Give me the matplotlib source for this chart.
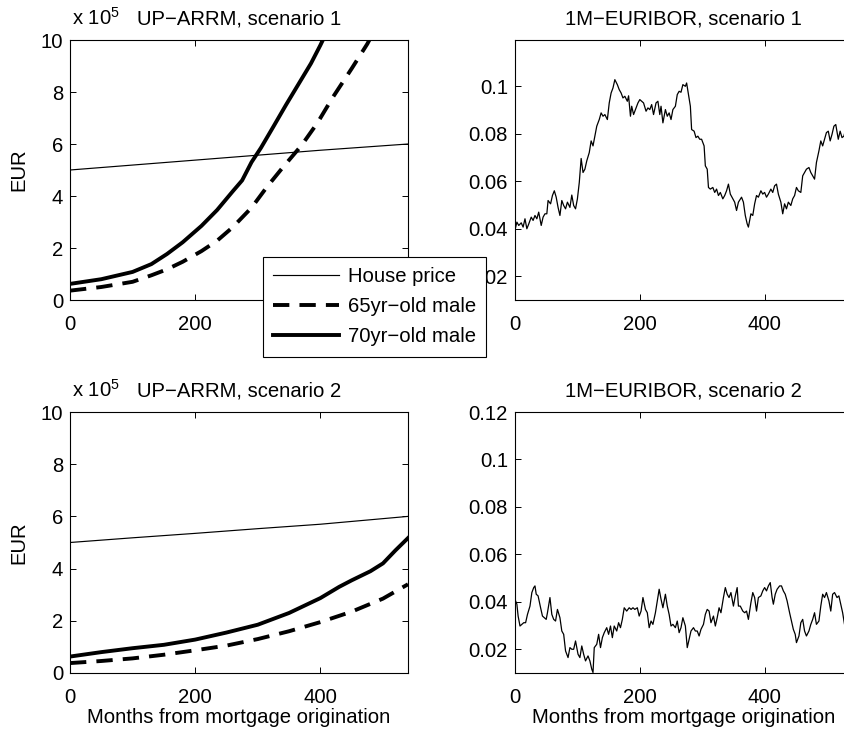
import matplotlib
matplotlib.use("Agg")
import matplotlib.pyplot as plt
from matplotlib.lines import Line2D
from matplotlib.ticker import FuncFormatter

plt.rcParams["font.family"] = ["Liberation Sans", "DejaVu Sans"]
plt.rcParams["mathtext.fontset"] = "custom"
plt.rcParams["mathtext.rm"] = "Liberation Sans"
FS = 14.6

# ---------------- UP-ARRM balances (EUR) ----------------
# scenario 1
house1_m = [0, 100, 200, 300, 400, 540]
house1_v = [5.0e5, 5.19e5, 5.38e5, 5.57e5, 5.76e5, 6.0e5]

male65_1_m = [0, 50, 100, 130, 155, 180, 210, 235, 260, 290, 315, 340, 370,
              395, 420, 450, 475, 500, 540]
male65_1_v = [0.36e5, 0.50e5, 0.70e5, 0.95e5, 1.18e5, 1.47e5, 1.88e5, 2.28e5,
              2.80e5, 3.55e5, 4.36e5, 5.10e5, 5.95e5, 6.80e5, 7.80e5, 8.90e5,
              9.85e5, 11.0e5, 13.0e5]

male70_1_m = [0, 50, 100, 130, 155, 180, 210, 235, 260, 275, 290, 305, 325,
              345, 370, 385, 400, 420, 460, 540]
male70_1_v = [0.62e5, 0.80e5, 1.08e5, 1.38e5, 1.77e5, 2.22e5, 2.85e5, 3.46e5,
              4.18e5, 4.60e5, 5.30e5, 5.85e5, 6.67e5, 7.50e5, 8.50e5, 9.10e5,
              9.80e5, 10.8e5, 13.0e5, 18.0e5]

# scenario 2
house2_m = [0, 100, 200, 300, 400, 540]
house2_v = [5.0e5, 5.18e5, 5.35e5, 5.53e5, 5.70e5, 6.0e5]

male65_2_m = [0, 50, 100, 150, 200, 250, 300, 350, 400, 450, 500, 540]
male65_2_v = [0.38e5, 0.46e5, 0.56e5, 0.70e5, 0.87e5, 1.05e5, 1.30e5, 1.60e5,
              1.95e5, 2.35e5, 2.85e5, 3.40e5]

male70_2_m = [0, 50, 100, 150, 200, 250, 300, 350, 400, 430, 450, 480, 500,
              520, 540]
male70_2_v = [0.63e5, 0.80e5, 0.95e5, 1.08e5, 1.28e5, 1.55e5, 1.85e5, 2.30e5,
              2.87e5, 3.30e5, 3.55e5, 3.90e5, 4.20e5, 4.70e5, 5.17e5]

# ---------------- 1M-EURIBOR paths ----------------
eur1_m = [0, 3, 6, 10, 13, 16, 19, 22, 26, 29, 32, 35, 38, 42, 45, 48, 51, 53,
          57, 60, 63, 66, 69, 72, 75, 78, 81, 84, 88, 91, 94, 97, 100, 103,
          106, 109, 112, 115, 119, 122, 125, 128, 131, 135, 138, 141, 144, 148,
          151, 154, 157, 160, 164, 167, 170, 173,
          176, 180, 182, 185, 187, 190, 194, 197, 200, 203, 206, 210, 213, 216,
          219, 222, 226, 229, 232, 234, 237, 241, 244, 247, 250, 253, 257, 260,
          263, 266, 269, 273, 275, 278, 281, 283, 287, 290, 293, 296, 299, 303,
          305, 308, 310, 313, 317, 320, 323, 326, 329, 333, 336, 339, 342, 345,
          349, 352, 355,
          358, 363, 366, 369, 372, 374, 378, 381, 384, 387, 390, 394, 397, 400,
          403, 406, 410, 413, 416, 419, 422, 426, 429, 432, 435, 438, 442, 445,
          448, 451, 454, 458, 461, 464, 467, 471, 474, 477, 480, 483, 487, 490,
          493, 496, 499, 502, 505, 508, 511, 514, 518, 521, 524, 527, 529, 533,
          537, 540]
eur1_v = [0.0395, 0.0428, 0.0414, 0.0425, 0.0407, 0.0442, 0.0400, 0.0420,
          0.0449, 0.0435, 0.0456, 0.0442, 0.0470, 0.0414, 0.0449, 0.0463,
          0.0463, 0.0519, 0.0505, 0.0540, 0.0560, 0.0533, 0.0490, 0.0456,
          0.0519, 0.0498, 0.0484, 0.0512, 0.0490, 0.0542, 0.0498, 0.0484,
          0.0526, 0.0595, 0.0696, 0.0637, 0.0651, 0.0686, 0.0721, 0.0770,
          0.0749, 0.0790, 0.0832, 0.0860, 0.0888, 0.0874, 0.0881, 0.0860,
          0.0930, 0.0972, 0.0993, 0.1028, 0.1007, 0.0986, 0.0972, 0.0951,
          0.0958, 0.0937, 0.0960, 0.0874, 0.0916, 0.0881, 0.0909, 0.0930,
          0.0944, 0.0937, 0.0930, 0.0895, 0.0909, 0.0902, 0.0923, 0.0881,
          0.0930, 0.0937, 0.0881, 0.0916, 0.0846, 0.0902, 0.0874, 0.0888,
          0.0860, 0.0902, 0.0916, 0.0965, 0.0979, 0.0975, 0.1007, 0.1000,
          0.1014, 0.0965, 0.0916, 0.0818, 0.0811, 0.0784, 0.0790, 0.0777,
          0.0777, 0.0749, 0.0665, 0.0651, 0.0574, 0.0567, 0.0574, 0.0553,
          0.0567, 0.0540, 0.0553, 0.0526, 0.0540, 0.0560, 0.0588, 0.0546,
          0.0526, 0.0512, 0.0477,
          0.0512, 0.0533, 0.0512, 0.0456, 0.0421, 0.0407, 0.0463, 0.0456,
          0.0505, 0.0540, 0.0533, 0.0560, 0.0546, 0.0553, 0.0533, 0.0546,
          0.0567, 0.0553, 0.0581, 0.0588, 0.0546, 0.0512, 0.0463, 0.0505,
          0.0484, 0.0512, 0.0498, 0.0526, 0.0540, 0.0574, 0.0560, 0.0553,
          0.0623, 0.0637, 0.0651, 0.0658, 0.0637, 0.0623, 0.0609, 0.0679,
          0.0728, 0.0770, 0.0749, 0.0777, 0.0805, 0.0811, 0.0770, 0.0798,
          0.0832, 0.0839, 0.0777, 0.0811, 0.0784, 0.0790, 0.0811, 0.0800,
          0.0815, 0.0795]

eur2_m = [0, 3, 5, 8, 11, 14, 17, 20, 24, 27, 30, 32, 34, 37, 41, 44, 47, 50,
          52, 56, 59, 62, 65, 68, 72, 75, 78, 81, 85, 88, 91, 94, 97, 101, 104,
          107, 110, 113, 117, 120, 123, 125, 127, 131, 134, 137, 140, 143, 147,
          150, 153, 156, 159, 163, 166, 169, 172, 175,
          179, 183, 186, 189, 192, 196, 199, 202, 205, 209, 212, 215, 218, 221,
          225, 228, 231, 234, 237, 241, 244, 247, 250, 253, 257, 260, 263, 266,
          269, 273, 276, 279, 282, 286, 289, 292, 295, 298, 302, 305, 308, 311,
          314, 318, 321, 324, 327, 330, 334, 337, 340, 343, 346, 350, 353, 356,
          358, 361, 365, 368, 371, 374, 378, 381, 384, 387, 390, 394, 397, 400,
          403, 406, 409, 412, 414, 417, 420, 424, 427, 430, 433, 436, 440, 443,
          446, 449, 451, 455, 458, 461, 464, 467, 471, 474, 477, 480, 483, 487,
          490, 493, 496, 499, 503, 506, 509, 512, 516, 519, 522, 525, 528, 532,
          536, 540]
eur2_v = [0.0410, 0.0390, 0.0340, 0.0298, 0.0305, 0.0312, 0.0312, 0.0347,
          0.0382, 0.0439, 0.0460, 0.0467, 0.0432, 0.0425, 0.0375, 0.0340,
          0.0333, 0.0326, 0.0354, 0.0418, 0.0347, 0.0326, 0.0319, 0.0368,
          0.0333, 0.0277, 0.0263, 0.0193, 0.0165, 0.0207, 0.0200, 0.0200,
          0.0235, 0.0179, 0.0165, 0.0214, 0.0179, 0.0151, 0.0172, 0.0151,
          0.0116, 0.0102, 0.0207, 0.0221, 0.0263, 0.0207, 0.0249, 0.0270,
          0.0291, 0.0263, 0.0298, 0.0249, 0.0298, 0.0277, 0.0312, 0.0291,
          0.0326, 0.0375,
          0.0361, 0.0375, 0.0368, 0.0375, 0.0368, 0.0375, 0.0340, 0.0361,
          0.0418, 0.0368, 0.0354, 0.0291, 0.0319, 0.0305, 0.0354, 0.0404,
          0.0453, 0.0411, 0.0375, 0.0432, 0.0382, 0.0347, 0.0298, 0.0305,
          0.0291, 0.0319, 0.0270, 0.0291, 0.0333, 0.0298, 0.0207, 0.0242,
          0.0277, 0.0291, 0.0277, 0.0277, 0.0256, 0.0284, 0.0305, 0.0347,
          0.0368, 0.0361, 0.0312, 0.0340, 0.0298, 0.0333, 0.0375, 0.0354,
          0.0418, 0.0460, 0.0432, 0.0418, 0.0439, 0.0382, 0.0425, 0.0460,
          0.0382, 0.0382, 0.0361, 0.0354, 0.0361, 0.0326, 0.0396, 0.0439,
          0.0418, 0.0361, 0.0418, 0.0425, 0.0446, 0.0460, 0.0446, 0.0467,
          0.0481, 0.0418, 0.0390, 0.0432, 0.0453, 0.0467, 0.0467, 0.0446,
          0.0432, 0.0404, 0.0354, 0.0319, 0.0284, 0.0263, 0.0228, 0.0256,
          0.0312, 0.0326, 0.0277, 0.0256, 0.0277, 0.0305, 0.0326, 0.0354,
          0.0305, 0.0319, 0.0382, 0.0432, 0.0418, 0.0439, 0.0404, 0.0361,
          0.0432, 0.0439, 0.0418, 0.0425, 0.0390, 0.0354, 0.0305, 0.0300,
          0.0320, 0.0310]

legend_labels = ["House price", "65yr\u2212old male", "70yr\u2212old male"]
titles = ["UP\u2212ARRM, scenario 1", "1M\u2212EURIBOR, scenario 1",
          "UP\u2212ARRM, scenario 2", "1M\u2212EURIBOR, scenario 2"]
arrm_yticks = [0, 2, 4, 6, 8, 10]
xticks = [0, 200, 400]

W, H = 845, 731
fig = plt.figure(figsize=(W / 100, H / 100), dpi=100)


def px_axes(x0, y0, x1, y1):
    return fig.add_axes([x0 / W, 1 - y1 / H, (x1 - x0) / W, (y1 - y0) / H])


ax_a1 = px_axes(70, 40, 408, 300)
ax_e1 = px_axes(515, 40, 852, 300)
ax_a2 = px_axes(70, 412, 408, 673)
ax_e2 = px_axes(515, 412, 852, 673)

THIN = 0.85
THICK = 2.8
DASH = (0, (4.2, 2.6))
TITLE_PAD = 11


def style(ax):
    ax.tick_params(direction="in", top=True, right=True, length=4,
                   width=0.7, labelsize=FS, colors="black")
    ax.tick_params(axis="x", pad=10.5)
    ax.tick_params(axis="y", pad=5)
    for s in ax.spines.values():
        s.set_linewidth(0.8)
    ax.set_xlim(0, 540)
    ax.set_xticks(xticks)


gfmt = FuncFormatter(lambda v, p: f"{v:g}")


def arrm(ax, hm, hv, m65, v65, m70, v70, title):
    ax.plot(hm, [v / 1e5 for v in hv], color="black", lw=THIN)
    ax.plot(m65, [v / 1e5 for v in v65], color="black", lw=THICK, ls=DASH)
    ax.plot(m70, [v / 1e5 for v in v70], color="black", lw=THICK)
    style(ax)
    ax.set_ylim(0, 10)
    ax.set_yticks(arrm_yticks)
    ax.yaxis.set_major_formatter(gfmt)
    ax.set_ylabel("EUR", fontsize=FS, labelpad=9)
    ax.set_title(title, fontsize=FS, pad=TITLE_PAD)
    # axis multiplier, on the same baseline as the title
    ax.annotate(r"x $\mathregular{10^5}$", xy=(0.005, 1.0),
                xycoords="axes fraction",
                xytext=(0, TITLE_PAD), textcoords="offset points",
                fontsize=FS, ha="left", va="baseline")


def euribor(ax, m, v, title, top, ticks):
    ax.plot(m, v, color="black", lw=0.9)
    style(ax)
    ax.set_ylim(0.01, top)
    ax.set_yticks(ticks)
    ax.yaxis.set_major_formatter(gfmt)
    ax.set_title(title, fontsize=FS, pad=TITLE_PAD)


arrm(ax_a1, house1_m, house1_v, male65_1_m, male65_1_v, male70_1_m,
     male70_1_v, titles[0])
arrm(ax_a2, house2_m, house2_v, male65_2_m, male65_2_v, male70_2_m,
     male70_2_v, titles[2])
euribor(ax_e1, eur1_m, eur1_v, titles[1], 0.1195,
        [0.02, 0.04, 0.06, 0.08, 0.1])
euribor(ax_e2, eur2_m, eur2_v, titles[3], 0.12,
        [0.02, 0.04, 0.06, 0.08, 0.1, 0.12])

ax_a2.set_xlabel("Months from mortgage origination", fontsize=FS, labelpad=1)
ax_e2.set_xlabel("Months from mortgage origination", fontsize=FS, labelpad=1)

handles = [Line2D([], [], color="black", lw=THIN),
           Line2D([], [], color="black", lw=THICK, ls=DASH),
           Line2D([], [], color="black", lw=THICK)]
leg = fig.legend(handles, legend_labels, loc="upper left",
                 bbox_to_anchor=(263 / W, 1 - 257 / H), borderaxespad=0,
                 fontsize=FS, frameon=True, fancybox=False, framealpha=1,
                 edgecolor="black", handlelength=3.25, handletextpad=0.42,
                 labelspacing=0.55, borderpad=0.5)
leg.get_frame().set_linewidth(0.8)

fig.savefig("out.png", dpi=100)
